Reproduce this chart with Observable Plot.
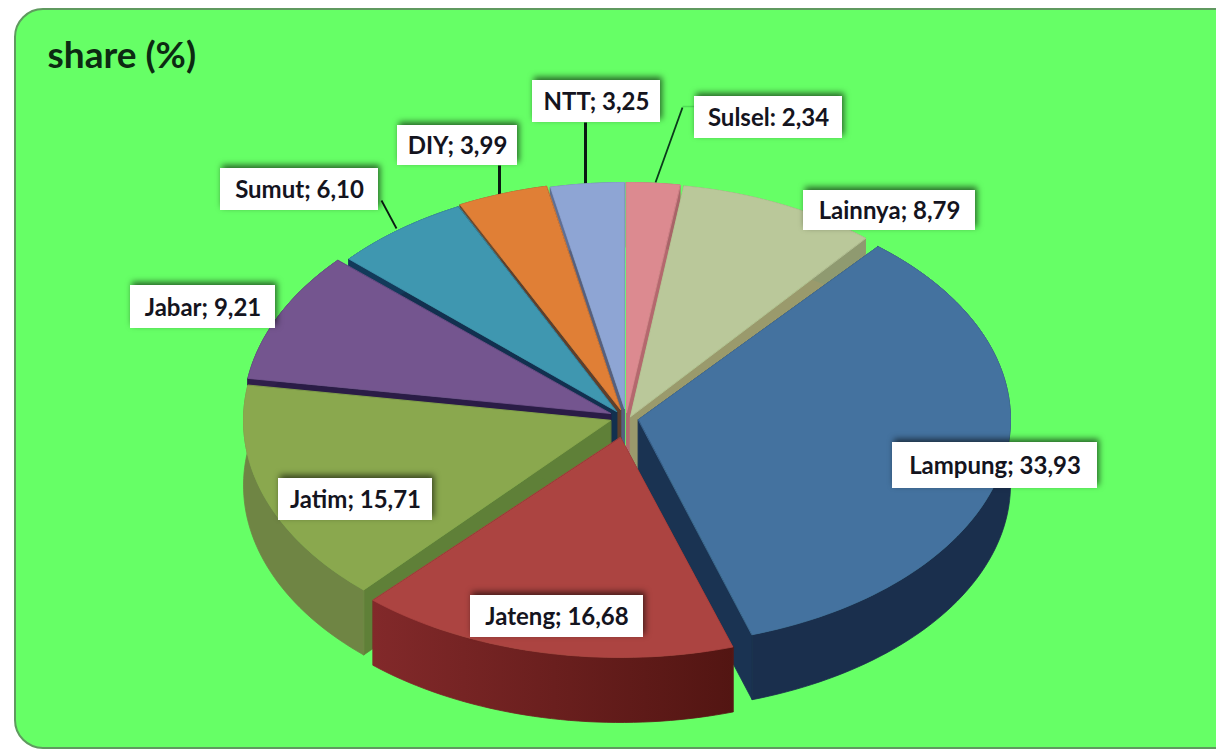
<!DOCTYPE html>
<html>
<head>
<meta charset="utf-8">
<style>
  html, body { margin: 0; padding: 0; background: #fff; }
</style>
<script src="https://cdn.jsdelivr.net/npm/d3@7"></script>
<script src="https://cdn.jsdelivr.net/npm/@observablehq/plot@0.6"></script>
</head>
<body>
<script>
// Provinces and their share, clockwise from twelve o'clock.
const names = ["Sulsel", "Lainnya", "Lampung", "Jateng", "Jatim", "Jabar", "Sumut", "DIY", "NTT"];
const shares = [2.34, 8.79, 33.93, 16.68, 15.71, 9.21, 6.10, 3.99, 3.25];
const separators = [": ", "; ", "; ", "; ", "; ", "; ", "; ", "; ", "; "];

// Face colours for each slice.
const topColors = ["#dc8a90", "#bac89a", "#44729f", "#ac4441", "#8aa84e", "#74558f", "#3f97b0", "#e07f36", "#8ea5d4"];
const rimColors = ["#a86468", "#8f9a70", "#1a2f4d", "url(#jatengRim)", "#6f8544", "#2f1f4a", "#123a5a", "#6a4a30", "#5f6f94"];
const cutColors = ["#b4686e", "#9a9a6c", "#1a3352", "#6d2220", "#5f8038", "#2a1c46", "#12304f", "#5e3f2c", "#56607e"];

// Where each slice's tip sits once pulled out of the pie, and its ellipse radii.
const tipX = [626, 630, 638, 620, 610, 610, 616, 620, 624];
const tipY = [412, 416, 419, 437, 420, 413, 411, 409, 408];
const radiusX = [365, 365, 372, 368, 367, 367, 360, 365, 365];
const radiusY = [230, 233, 226, 220, 229, 229, 228, 228, 226];
const depth = 65;

// Back-to-front drawing sequence.
const paintOrder = [0, 8, 7, 1, 6, 5, 2, 4, 3];

// Label boxes: left, right, top, bottom.
const boxLeft = [694, 803, 892, 470, 278, 130, 220, 397, 532];
const boxRight = [842, 975, 1097, 643, 432, 275, 378, 517, 660];
const boxTop = [96, 190, 442, 595, 478, 285, 168, 125, 80];
const boxBottom = [138, 230, 488, 637, 520, 328, 210, 165, 122];

// Leader lines from a label to its slice.
const leaders = [
  {x1: 585, y1: 122, x2: 585, y2: 183, w: 3, c: "#0a1a12"},
  {x1: 499, y1: 165, x2: 499, y2: 195, w: 3, c: "#0a1a12"},
  {x1: 381, y1: 200, x2: 396, y2: 228, w: 1.8, c: "#0a1a12"},
  {x1: 682, y1: 107, x2: 655, y2: 182, w: 1.8, c: "#0a3a1a"},
  {x1: 682, y1: 106, x2: 694, y2: 106, w: 1.5, c: "#4fdc55"}
];

const total = d3.sum(shares);
const ends = d3.cumsum(shares).map((v) => v / total * 2 * Math.PI);
const starts = ends.map((_, i) => (i ? ends[i - 1] : 0));

function rim(i, lift = 0) {
  const n = Math.max(4, Math.ceil((ends[i] - starts[i]) * 40));
  return d3.range(n + 1).map((k) => {
    const t = starts[i] + (ends[i] - starts[i]) * k / n;
    return {x: tipX[i] + radiusX[i] * Math.sin(t), y: tipY[i] - radiusY[i] * Math.cos(t) + lift};
  });
}

const face = (points, color) =>
  Plot.line(points, {x: "x", y: "y", curve: "linear-closed", fill: color, stroke: color, strokeWidth: 0.8});

function sliceMarks(i) {
  const top = rim(i);
  const low = rim(i, depth);
  const tip = {x: tipX[i], y: tipY[i]};
  const tipLow = {x: tipX[i], y: tipY[i] + depth};
  return [
    face([tip, top[0], low[0], tipLow], cutColors[i]),
    face([tip, top[top.length - 1], low[low.length - 1], tipLow], cutColors[i]),
    face([...top, ...low.slice().reverse()], rimColors[i]),
    face([tip, ...top], topColors[i])
  ];
}

// Shading along the Jateng outer wall.
function gradientDefs() {
  const defs = d3.create("svg:defs");
  const g = defs.append("linearGradient")
    .attr("id", "jatengRim")
    .attr("gradientUnits", "userSpaceOnUse")
    .attr("x1", 372).attr("x2", 735).attr("y1", 0).attr("y2", 0);
  g.append("stop").attr("offset", 0).attr("stop-color", "#82292a");
  g.append("stop").attr("offset", 1).attr("stop-color", "#521512");
  return defs.node();
}

const labelRows = names.map((name, i) => ({
  text: name + separators[i] + shares[i].toFixed(2).replace(".", ","),
  x1: boxLeft[i], x2: boxRight[i], y1: boxTop[i], y2: boxBottom[i]
}));

const chart = Plot.plot({
  width: 1216,
  height: 750,
  margin: 0,
  x: {domain: [0, 1216], range: [0, 1216], axis: null},
  y: {domain: [0, 750], range: [0, 750], axis: null},
  style: {background: "#fff", display: "block"},
  marks: [
    gradientDefs,
    Plot.rect([{}], {x1: 15, x2: 1260, y1: 9, y2: 748, rx: 28, fill: "#66ff66", stroke: "#5f9a5f", strokeWidth: 2}),
    Plot.text(["share (%)"], {x: 47, y: 56, text: (d) => d, textAnchor: "start", fontFamily: "Lato", fontWeight: 700, fontSize: 37, fill: "#0c2a12"}),
    Plot.link(leaders, {x1: "x1", y1: "y1", x2: "x2", y2: "y2", stroke: "c", strokeWidth: "w"}),
    ...paintOrder.flatMap(sliceMarks),
    Plot.rect(labelRows, {x1: "x1", x2: "x2", y1: "y1", y2: "y2", fill: "#fff", imageFilter: "drop-shadow(2px -3px 3px rgba(0,0,0,0.6))"}),
    Plot.text(labelRows, {x: (d) => (d.x1 + d.x2) / 2, y: (d) => (d.y1 + d.y2) / 2 + 1, text: "text", fontFamily: "Lato", fontWeight: 700, fontSize: 24, fill: "#14141e"})
  ]
});

document.body.appendChild(chart);
</script>
</body>
</html>
